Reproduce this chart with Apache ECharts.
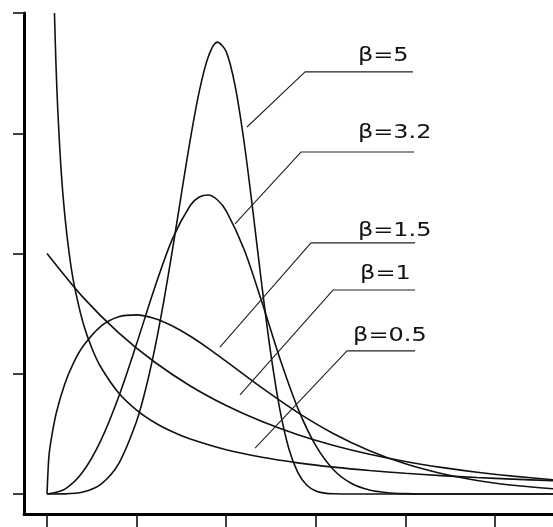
<!DOCTYPE html>
<html><head><meta charset="utf-8">
<script src="https://cdn.jsdelivr.net/npm/echarts@6/dist/echarts.min.js"></script>
<style>html,body{margin:0;padding:0;background:#fff}#c{width:553px;height:527px}</style>
</head><body><div id="c"></div>
<script>
// Weibull-type density curves (scale = 1)
const x_b5 = [0,0.1,0.2,0.3,0.4,0.5,0.55,0.6,0.65,0.7,0.75,0.8,0.85,0.9,0.95,1.0,1.05,1.1,1.15,1.2,1.25,1.3,1.35,1.4,1.45,1.5,1.55,1.6,1.7,2.0,2.5,2.83];
const y_b5 = [0,0.0005,0.008,0.0404,0.1267,0.3029,0.4350,0.5995,0.7948,1.0148,1.2479,1.4758,1.6749,1.8177,1.8787,1.8394,1.6962,1.4626,1.1701,0.8606,0.5771,0.3486,0.1875,0.0886,0.0364,0.0127,0.0038,0.0009,0,0,0,0];

const x_b32 = [0,0.1,0.2,0.3,0.4,0.5,0.6,0.7,0.8,0.85,0.9,0.95,1.0,1.1,1.2,1.3,1.4,1.5,1.6,1.7,1.8,1.9,2.0,2.1,2.3,2.83];
const y_b32 = [0,0.0202,0.0922,0.2216,0.4041,0.6245,0.8557,1.0607,1.2005,1.2350,1.2431,1.2235,1.1772,1.0163,0.7962,0.5625,0.3562,0.2009,0.1000,0.0436,0.0165,0.0054,0.0015,0.0003,0,0];

const x_b15 = [0,0.01,0.02,0.05,0.1,0.15,0.2,0.3,0.4,0.5,0.6,0.7,0.8,0.9,1.0,1.2,1.4,1.6,1.8,2.0,2.2,2.4,2.6,2.83];
const y_b15 = [0,0.150,0.2115,0.3317,0.4596,0.5482,0.6135,0.6971,0.7367,0.7448,0.7300,0.6987,0.6559,0.6059,0.5518,0.4413,0.3386,0.2507,0.1799,0.1254,0.0852,0.0564,0.0366,0.0216];

const x_b1 = [0,0.2,0.4,0.6,0.8,1.0,1.2,1.4,1.6,1.8,2.0,2.2,2.4,2.6,2.83];
const y_b1 = [1,0.8187,0.6703,0.5488,0.4493,0.3679,0.3012,0.2466,0.2019,0.1653,0.1353,0.1108,0.0907,0.0743,0.0590];

const x_b05 = [0.0416,0.05,0.06,0.08,0.1,0.125,0.15,0.2,0.25,0.3,0.4,0.5,0.6,0.7,0.8,1.0,1.2,1.4,1.6,1.8,2.0,2.2,2.4,2.6,2.83];
const y_b05 = [2.0,1.788,1.598,1.332,1.153,0.993,0.876,0.715,0.607,0.528,0.420,0.349,0.2975,0.2589,0.2286,0.1839,0.1526,0.1294,0.1116,0.0974,0.0860,0.0765,0.0685,0.0618,0.0553];

// axis ticks (no labels in the picture)
const xTicks = [0,0.5,1,1.5,2,2.5];
const yTicks = [0,0.5,1,1.5,2];

// annotations: label text and leader lines (data units)
const labelNames = ['β=5','β=3.2','β=1.5','β=1','β=0.5'];
const labelX = [1.735,1.735,1.735,1.747,1.708];
const labelY = [1.823,1.503,1.096,0.917,0.657];
const leaderEndX = [1.116,1.049,0.965,1.077,1.161];
const leaderEndY = [1.526,1.123,0.611,0.412,0.191];
const elbowX = [1.440,1.417,1.473,1.596,1.674];
const elbowY = [1.755,1.422,1.044,0.848,0.595];
const leaderRightX = [2.042,2.048,2.054,2.054,2.054];

const zip = (xs, ys) => xs.map((x, i) => [x, ys[i]]);
const chart = echarts.init(document.getElementById('c'), null, {renderer: 'canvas'});

const curves = [[x_b5,y_b5],[x_b32,y_b32],[x_b15,y_b15],[x_b1,y_b1],[x_b05,y_b05]];
const series = curves.map(([xs, ys]) => ({
  type: 'line', data: zip(xs, ys), smooth: 0.3,
  symbol: 'none', silent: true, clip: true,
  lineStyle: {color: '#111', width: 1.6}
}));
labelNames.forEach((n, i) => {
  series.push({
    type: 'line', symbol: 'none', silent: true,
    data: [[leaderEndX[i], leaderEndY[i]], [elbowX[i], elbowY[i]], [leaderRightX[i], elbowY[i]]],
    lineStyle: {color: '#222', width: 1.1}
  });
});

chart.setOption({
  animation: false,
  backgroundColor: '#fff',
  grid: {left: 24, right: 0, top: 13, bottom: 13, containLabel: false},
  xAxis: {
    type: 'value', min: -0.1284, max: 2.8237,
    axisLine: {show: true, onZero: false, lineStyle: {color: '#000', width: 3}},
    axisTick: {show: true, customValues: xTicks, length: 14, lineStyle: {color: '#000', width: 1.5}},
    axisLabel: {show: false}, splitLine: {show: false}
  },
  yAxis: {
    type: 'value', min: -0.08316, max: 2,
    axisLine: {show: true, onZero: false, lineStyle: {color: '#000', width: 3}},
    axisTick: {show: true, customValues: yTicks, length: 11, lineStyle: {color: '#000', width: 1.5}},
    axisLabel: {show: false}, splitLine: {show: false}
  },
  series: series
});

// label texts, placed through the chart's own coordinate conversion
const texts = labelNames.map((n, i) => {
  const p = chart.convertToPixel({gridIndex: 0}, [labelX[i], labelY[i]]);
  return {
    type: 'text', x: p[0], y: p[1], scaleX: 1.2, silent: true,
    style: {text: n, font: '20px "DejaVu Sans"', fill: '#111', verticalAlign: 'middle', align: 'left'}
  };
});
chart.setOption({graphic: texts});
</script></body></html>
